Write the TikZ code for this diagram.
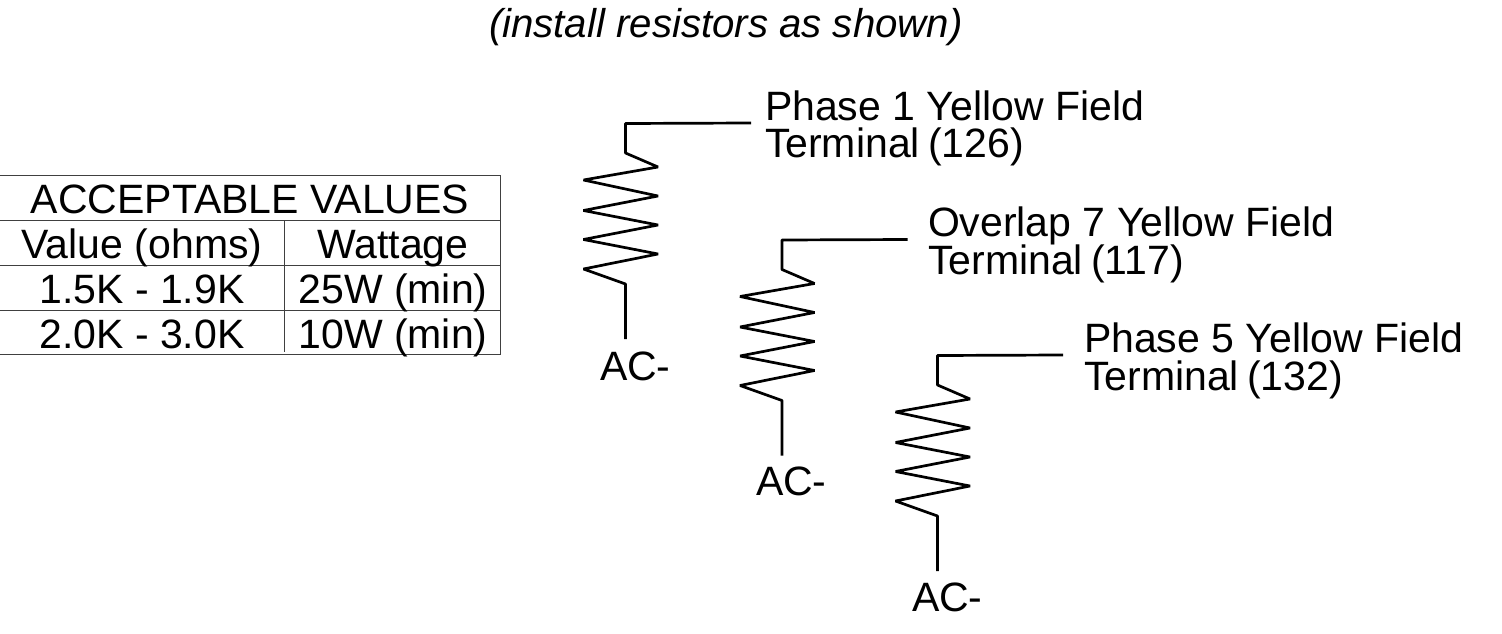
\documentclass[tikz,border=0pt]{standalone}
\usepackage{fontspec}
\setmainfont{Liberation Sans}
\tikzset{
  wire/.style={draw=black,line width=2.7pt,line join=bevel},
  rule/.style={draw=black!75,line width=1pt},
  txt/.style={inner sep=0pt,outer sep=0pt,anchor=base west,font=\fontsize{41}{41}\selectfont},
  cell/.style={inner sep=0pt,outer sep=0pt,anchor=base,font=\fontsize{41}{41}\selectfont}
}
\newcommand{\resistor}[3]{%
 \begin{scope}[shift={(#2,#3)}]
  \coordinate (#1w) at (751,123);
  \coordinate (#1c) at (625.5,123.5);
  \coordinate (#1a) at (625.5,153);
  \coordinate (#1b) at (625.5,284);
  \coordinate (#1e) at (625.5,339);
  \draw[wire] (#1w) -- (#1c) -- (#1a) -- (658,167) -- (583.5,180) -- (658,196) -- (583.5,210.5)
     -- (658,225) -- (583.5,239.5) -- (658,254) -- (583.5,269) -- (#1b) -- (#1e);
 \end{scope}}
\begin{document}
\begin{tikzpicture}[x=1pt,y=-1pt]
\useasboundingbox (0,0) rectangle (1502,634);
% title
\node[txt,font=\fontsize{40.2}{40.2}\selectfont\itshape] (title) at (489,38) {(install resistors as shown)};
% table
\coordinate (tl) at (0,175.5);
\coordinate (br) at (500,354.5);
\draw[rule] (tl) -- (tl-|br) -- (br) -- (tl|-br);
\draw[rule] (0,220.5) -- (500,220.5);
\draw[rule] (0,265.5) -- (500,265.5);
\draw[rule] (0,310.5) -- (500,310.5);
\draw[rule] (284.5,220.5) -- (284.5,352);
\node[cell] (thead) at (250,213) {ACCEPTABLE VALUES};
\node[cell] (c11) at (142,258) {Value (ohms)};
\node[cell] (c12) at (393,258) {Wattage};
\node[cell] (c21) at (142,303) {1.5K - 1.9K};
\node[cell] (c22) at (393,303) {25W (min)};
\node[cell] (c31) at (142,348) {2.0K - 3.0K};
\node[cell] (c32) at (393,348) {10W (min)};
% resistors
\resistor{ra}{0}{0}
\resistor{rb}{156.5}{116.5}
\resistor{rc}{312}{232}
% labels
\node[txt] (la1) at (765,120) {Phase 1 Yellow Field};
\node[txt] (la2) at (765,157) {Terminal\hspace{-3pt} (126)};
\node[txt] (lb1) at (928,236) {Overlap 7 Yellow Field};
\node[txt] (lb2) at (928,274) {Terminal\hspace{-3pt} (117)};
\node[txt] (lc1) at (1084,352) {Phase 5 Yellow Field};
\node[txt] (lc2) at (1084,390) {Terminal\hspace{-3pt} (132)};
\node[txt] (aa) at (600,380) {AC-};
\node[txt] (ab) at (756,495) {AC-};
\node[txt] (ac) at (912,611) {AC-};
\end{tikzpicture}
\end{document}
